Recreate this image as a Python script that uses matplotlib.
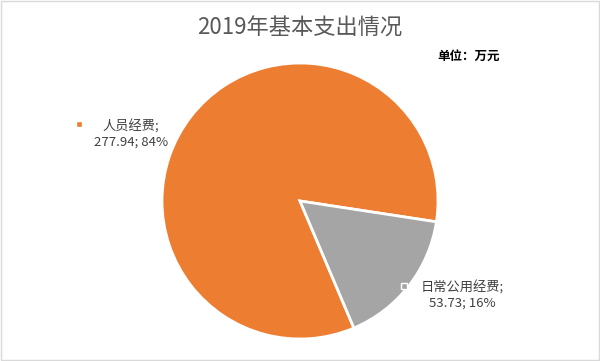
import matplotlib
matplotlib.use("Agg")
import matplotlib.pyplot as plt
from matplotlib.patches import Rectangle

plt.rcParams['font.family'] = ['Noto Sans CJK SC', 'DejaVu Sans']

categories = ["人员经费", "日常公用经费"]
values = [277.94, 53.73]
percents = ["84%", "16%"]
colors = ["#ED7D31", "#A5A5A5"]

fig = plt.figure(figsize=(6.0, 3.61), dpi=100)
fig.patch.set_facecolor("white")
fig.add_artist(Rectangle((0.002, 0.003), 0.996, 0.994, transform=fig.transFigure,
                         fill=False, edgecolor="#D9D9D9", linewidth=1))

# pie axes: center (300,201) px, radius ~137 px
r = 138
cx, cy = 300, 361 - 201
ax = fig.add_axes([(cx - r) / 600, (cy - r) / 361, 2 * r / 600, 2 * r / 361])
ax.pie(values, colors=colors, startangle=-67, counterclock=False,
       wedgeprops=dict(edgecolor="white", linewidth=2), radius=1.0)
ax.set_xlim(-1, 1)
ax.set_ylim(-1, 1)
ax.set_aspect("auto")
ax.axis("off")

fig.text(0.5, 1 - 28 / 361, "2019年基本支出情况", ha="center", va="center",
         fontsize=16, color="#595959")
fig.text(437 / 600, 1 - 56 / 361, "单位：万元", ha="left", va="center",
         fontsize=9, fontweight="bold", color="#000000")

# data labels
labels = [f"{c};\n{v:.2f}; {p}" for c, v, p in zip(categories, values, percents)]
pos = [(131, 134), (462, 295)]
mk = [(79, 124), (404, 286)]
for lab, (x, y), (mx, my), col in zip(labels, pos, mk, colors):
    fig.text(x / 600, 1 - y / 361, lab, ha="center", va="center", fontsize=9.5,
             color="#404040", linespacing=1.15)
    fig.add_artist(Rectangle((mx / 600 - 3 / 600, 1 - my / 361 - 3 / 361), 6 / 600, 6 / 361,
                             transform=fig.transFigure, facecolor=col,
                             edgecolor="white", linewidth=1))

fig.savefig("out.png", dpi=100)
